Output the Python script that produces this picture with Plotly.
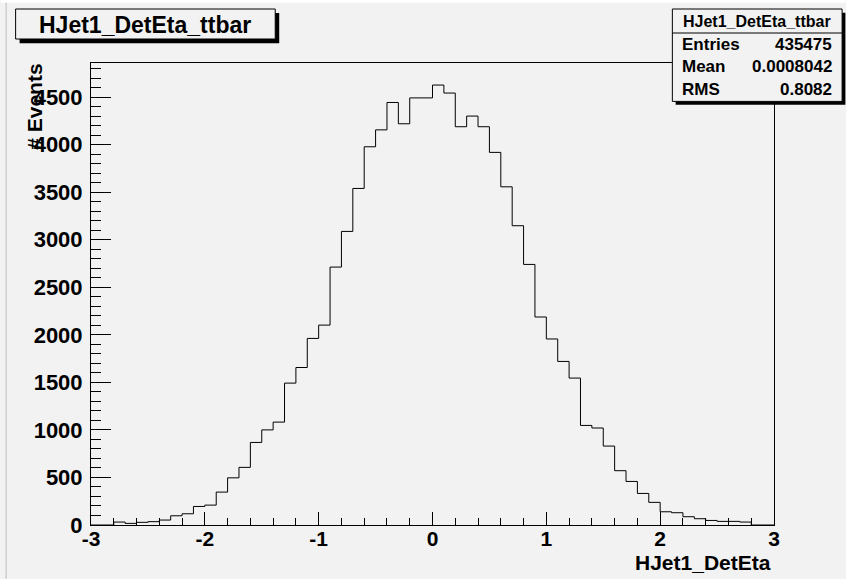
import plotly.graph_objects as go

# ---- data ----
bin_edges = [round(-3.0 + 0.1 * i, 1) for i in range(61)]
counts = [0, 0, 31, 17, 28, 35, 52, 97, 118, 195,
          209, 346, 496, 606, 868, 1000, 1082, 1492, 1656, 1962,
          2102, 2712, 3087, 3539, 3977, 4155, 4443, 4219, 4491, 4491,
          4626, 4542, 4188, 4300, 4188, 3918, 3556, 3147, 2740, 2187,
          1956, 1720, 1545, 1047, 1020, 830, 571, 458, 332, 238,
          139, 129, 87, 66, 48, 38, 38, 31, 0, 0]
hist_name = "HJet1_DetEta_ttbar"
x_title = "HJet1_DetEta"
y_title = "# Events"
stat_labels = ["Entries", "Mean", "RMS"]
stat_values = ["435475", "0.0008042", "0.8082"]
y_tickvals = [0, 500, 1000, 1500, 2000, 2500, 3000, 3500, 4000, 4500]
x_tickvals = [-3, -2, -1, 0, 1, 2, 3]

# ---- geometry (pixels) ----
W, H = 846, 579
L, R, T, B = 90.5, 774.5, 63.3, 525.3
PW, PH = R - L, B - T
BG = "#f2f2f2"
FONT = "Liberation Sans"


def px(x):
    return (x - L) / PW


def py(y):
    return (B - y) / PH


fig = go.Figure()
fig.add_trace(go.Scatter(
    x=bin_edges, y=counts + [counts[-1]], mode="lines", line_shape="hv",
    line=dict(color="black", width=1), hoverinfo="skip", showlegend=False))

shapes = []
ann = []
# top white strip and left border line
shapes.append(dict(type="rect", xref="paper", yref="paper", x0=px(0), x1=px(W), y0=py(3), y1=py(0),
                   fillcolor="white", line=dict(width=0), layer="below"))
shapes.append(dict(type="line", xref="paper", yref="paper", x0=px(5.5), x1=px(5.5), y0=py(3), y1=py(H),
                   line=dict(color="#bdbdbd", width=1)))

# title box with shadow
shapes.append(dict(type="rect", xref="paper", yref="paper", x0=px(19), x1=px(279), y0=py(43.5), y1=py(13.3),
                   fillcolor="black", line=dict(width=0)))
shapes.append(dict(type="rect", xref="paper", yref="paper", x0=px(15), x1=px(275), y0=py(39.3), y1=py(9.3),
                   fillcolor=BG, line=dict(color="black", width=1)))
ann.append(dict(text=hist_name, xref="paper", yref="paper", x=px(145), y=py(25.5), xanchor="center",
                yanchor="middle", showarrow=False, font=dict(family=FONT, size=23, color="black", weight="bold")))

# stats box with shadow
shapes.append(dict(type="rect", xref="paper", yref="paper", x0=px(676), x1=px(846), y0=py(105), y1=py(13),
                   fillcolor="black", line=dict(width=0)))
shapes.append(dict(type="rect", xref="paper", yref="paper", x0=px(672.7), x1=px(842.7), y0=py(101.7), y1=py(9.3),
                   fillcolor=BG, line=dict(color="black", width=1)))
shapes.append(dict(type="line", xref="paper", yref="paper", x0=px(672.7), x1=px(842.7), y0=py(33.3), y1=py(33.3),
                   line=dict(color="black", width=1)))
ann.append(dict(text=hist_name, xref="paper", yref="paper", x=px(757.7), y=py(21.3), xanchor="center",
                yanchor="middle", showarrow=False, font=dict(family=FONT, size=16, color="black", weight="bold")))
row_y = [44.5, 67, 89.5]
for lab, val, yy in zip(stat_labels, stat_values, row_y):
    ann.append(dict(text=lab, xref="paper", yref="paper", x=px(680), y=py(yy), xanchor="left",
                    yanchor="middle", showarrow=False, font=dict(family=FONT, size=17, color="black", weight="bold")))
    ann.append(dict(text=val, xref="paper", yref="paper", x=px(835), y=py(yy), xanchor="right",
                    yanchor="middle", showarrow=False, font=dict(family=FONT, size=17, color="black", weight="bold")))

# axis titles
ann.append(dict(text=x_title, xref="paper", yref="paper", x=px(773), y=py(563), xanchor="right",
                yanchor="middle", showarrow=False, font=dict(family=FONT, size=21, color="black", weight="bold")))
ann.append(dict(text=y_title, xref="paper", yref="paper", x=px(34.5), y=py(62), xanchor="center",
                yanchor="top", textangle=-90, showarrow=False,
                font=dict(family=FONT, size=21, color="black", weight="bold")))

fig.update_layout(
    width=W, height=H, paper_bgcolor=BG, plot_bgcolor=BG,
    margin=dict(l=L, r=W - R, t=T, b=H - B, pad=0, autoexpand=False),
    shapes=shapes, annotations=ann, showlegend=False,
    font=dict(family=FONT, color="black"),
)
fig.update_xaxes(
    range=[-3, 3], tickvals=x_tickvals, ticktext=[str(v) for v in x_tickvals],
    ticks="inside", ticklen=13, tickwidth=1, tickcolor="black",
    minor=dict(dtick=0.2, tick0=-3, ticks="inside", ticklen=7, tickcolor="black", tickwidth=1, showgrid=False),
    showline=True, mirror=True, linecolor="black", linewidth=1, showgrid=False, zeroline=False,
    tickfont=dict(family=FONT, size=21, color="black", weight="bold"), ticklabelstandoff=-5,
)
fig.update_yaxes(
    range=[0, 4858], tickvals=y_tickvals, ticktext=[str(v) for v in y_tickvals],
    ticks="inside", ticklen=20, tickwidth=1, tickcolor="black",
    minor=dict(dtick=100, tick0=0, ticks="inside", ticklen=10, tickcolor="black", tickwidth=1, showgrid=False),
    showline=True, mirror=True, linecolor="black", linewidth=1, showgrid=False, zeroline=False,
    tickfont=dict(family=FONT, size=22, color="black", weight="bold"), ticklabelstandoff=3,
)

fig.write_html("out.html", config={"displayModeBar": False},
               post_script="document.body.style.margin='0px';document.body.style.overflow='hidden';")
